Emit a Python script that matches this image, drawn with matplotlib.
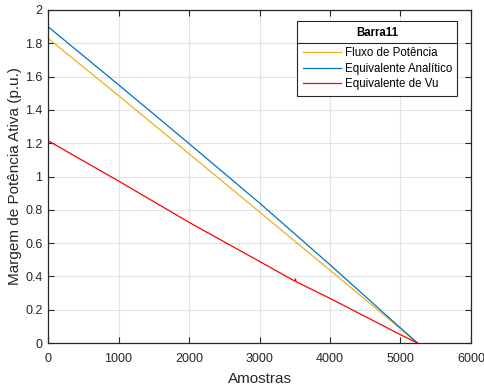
import matplotlib
matplotlib.use("Agg")
import matplotlib.pyplot as plt
from matplotlib.lines import Line2D

plt.rcParams['font.family'] = ['Liberation Sans', 'DejaVu Sans']

amostras = [0, 1000, 2000, 3000, 4000, 5000, 5240]
fluxo = [1.83, 1.486, 1.137, 0.787, 0.437, 0.085, 0.0]
analitico = [1.90, 1.551, 1.198, 0.841, 0.47, 0.09, 0.0]
vu_x = [0, 1000, 2000, 3000, 3500, 3510, 3520, 4000, 5000, 5240]
vu = [1.215, 0.973, 0.725, 0.49, 0.372, 0.385, 0.368, 0.268, 0.05, 0.0]

xticks = [0, 1000, 2000, 3000, 4000, 5000, 6000]
yticks = [0, 0.2, 0.4, 0.6, 0.8, 1, 1.2, 1.4, 1.6, 1.8, 2]

fig = plt.figure(figsize=(4.84, 3.87), dpi=100)
ax = fig.add_axes([48/484, 1-343/387, 423/484, 333/387])

ax.plot(amostras, fluxo, color='#EDB120', lw=0.9, label='Fluxo de Potência')
ax.plot(amostras, analitico, color='#0072BD', lw=0.9, label='Equivalente Analítico')
ax.plot(vu_x, vu, color='#FF0000', lw=0.9, label='Equivalente de Vu')

ax.set_xlim(0, 6000)
ax.set_ylim(0, 2)
ax.set_xticks(xticks)
ax.set_yticks(yticks)
ax.set_xticklabels([str(t) for t in xticks])
ax.set_yticklabels(['0', '0.2', '0.4', '0.6', '0.8', '1', '1.2', '1.4', '1.6', '1.8', '2'])
ax.grid(True, color='#e3e3e3', lw=0.8)
ax.set_axisbelow(True)
ax.tick_params(direction='in', top=True, right=True, length=4, labelsize=9,
               colors='#262626', width=0.8)
ax.tick_params(axis='x', pad=7)
ax.tick_params(axis='y', pad=4)
for s in ax.spines.values():
    s.set_color('#262626')
    s.set_linewidth(0.9)
ax.set_xlabel('Amostras', fontsize=11, color='#262626', labelpad=5)
ax.set_ylabel('Margem de Potência Ativa (p.u.)', fontsize=11, color='#262626', labelpad=2)

leg = ax.legend(loc='upper right', bbox_to_anchor=(0.967, 0.966), fontsize=8.3,
                title='Barra11', title_fontproperties={'weight': 'bold', 'size': 8.3},
                frameon=True, fancybox=False, edgecolor='#262626', framealpha=1,
                handlelength=3.3, handletextpad=0.35, borderpad=0.45,
                labelspacing=0.33, borderaxespad=0)
leg.get_frame().set_linewidth(0.8)
leg._legend_box.sep = 6

fig.canvas.draw()
bb = leg.get_window_extent()
tb = leg.get_title().get_window_extent()
ysep = tb.y0 - 4
inv = fig.transFigure.inverted()
(x0, y0) = inv.transform((bb.x0, ysep))
(x1, _) = inv.transform((bb.x1, ysep))
fig.add_artist(Line2D([x0, x1], [y0, y0], color='#262626', lw=0.8, transform=fig.transFigure, zorder=10))

fig.savefig('out.png', dpi=100)
